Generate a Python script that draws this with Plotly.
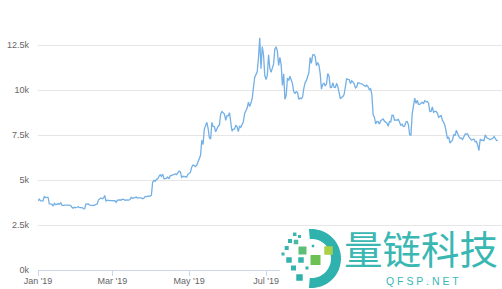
import datetime as dt
import math
import plotly.graph_objects as go

# Daily values (2019)
jan = [3843, 3943, 3837, 3858, 3845, 4076, 4026, 4030, 4035, 3678, 3687, 3661, 3552, 3706, 3631, 3655,
       3679, 3657, 3729, 3601, 3577, 3601, 3584, 3600, 3599, 3602, 3583, 3476, 3438, 3490, 3458]
feb = [3487, 3521, 3464, 3460, 3467, 3414, 3400, 3666, 3674, 3671, 3600, 3611, 3595, 3584, 3600, 3618,
       3667, 3899, 3947, 3999, 3955, 3994, 4143, 3810, 3883, 3855, 3860, 3854]
mar = [3860, 3875, 3848, 3762, 3875, 3877, 3900, 3878, 3938, 3924, 3874, 3896, 3882, 3880, 3919, 4032,
       3986, 3993, 4018, 4051, 3996, 4004, 4025, 4008, 3963, 3985, 4087, 4069, 4098, 4106, 4105]
apr = [4158, 4880, 4973, 4922, 5036, 5059, 5198, 5289, 5205, 5325, 5064, 5090, 5095, 5167, 5067, 5235,
       5251, 5298, 5304, 5338, 5301, 5389, 5488, 5447, 5150, 5209, 5208, 5190, 5155, 5324]
may = [5360, 5432, 5707, 5832, 5796, 5747, 5830, 5982, 6162, 6358, 7209, 6971, 7815, 7994, 8206, 7885,
       7344, 7271, 8197, 7978, 7963, 7680, 7882, 7991, 8052, 8674, 8805, 8719, 8660, 8319, 8575]
jun = [8564, 8742, 8209, 7707, 7825, 7822, 8043, 7954, 7688, 8000, 7927, 8145, 8230, 8693, 8838, 8995,
       9320, 9082, 9273, 9527, 10144, 10701, 10855, 11011, 11790, 12900, 11182, 12407, 11959, 10817]
jul = [10583, 10801, 11961, 11215, 10978, 11208, 11450, 12285, 12400, 12156, 11358, 11815, 11392, 10256,
       10895, 9477, 9693, 10666, 10530, 10767, 10599, 10343, 9900, 9811, 9911, 9871, 9477, 9552, 9519,
       9607, 10085]
aug = [10399, 10518, 10821, 10970, 11805, 11478, 11941, 11966, 11862, 11354, 11523, 11382, 10895, 10051,
       10311, 10374, 10231, 10345, 10916, 10763, 10138, 10131, 10407, 10160, 10139, 10370, 10185, 9754,
       9510, 9598, 9630]
sep = [9757, 10346, 10623, 10594, 10575, 10353, 10517, 10441, 10334, 10115, 10178, 10410, 10360, 10358,
       10347, 10276, 10241, 10199, 10266, 10181, 10019, 10070, 9729, 8620, 8486, 8118, 8251, 8245, 8104,
       8293]
oct_ = [8343, 8393, 8259, 8205, 8151, 7988, 8245, 8228, 8595, 8586, 8321, 8336, 8321, 8374, 8205, 8047,
        8103, 7973, 7988, 8222, 8243, 8078, 7514, 7493, 8660, 9244, 9551, 9256, 9427, 9205, 9199]
nov = [9261, 9324, 9235, 9412, 9342, 9360, 9267, 8804, 8813, 9055, 8757, 8815, 8808, 8708, 8491, 8550,
       8577, 8309, 8206, 8027, 7642, 7296, 7397, 7047, 7146, 7218, 7531, 7463, 7761, 7569]
dec = [7424, 7321, 7320, 7252, 7448, 7546, 7556, 7564, 7400, 7278, 7217, 7243, 7269, 7124, 7152, 6932,
       6640, 7276, 7202, 7219, 7191, 7511, 7355, 7322, 7275, 7238, 7290, 7317, 7422, 7293, 7193]
jan_2020 = [7200]

values = jan + feb + mar + apr + may + jun + jul + aug + sep + oct_ + nov + dec + jan_2020
start = dt.date(2019, 1, 1)
dates = [start + dt.timedelta(days=i) for i in range(len(values))]

tick_vals = [0, 2500, 5000, 7500, 10000, 12500, 15000]
tick_text = ["0k", "2.5k", "5k", "7.5k", "10k", "12.5k", ""]
x_ticks = ["2019-01-01", "2019-03-01", "2019-05-01", "2019-07-01", "2019-09-01", "2019-11-01"]
x_text = ["Jan '19", "Mar '19", "May '19", "Jul '19", "Sep '19", "Nov '19"]

W, H = 502, 289
L, R, T, B = 38, 0, 0, 19
PW, PH = W - L - R, H - T - B


def px(x):
    return (x - L) / PW


def py(y):
    return (T + PH - y) / PH


fig = go.Figure()
fig.add_trace(go.Scatter(x=dates, y=values, mode="lines",
                         line=dict(color="#74b0e6", width=1.3), hoverinfo="skip"))

shapes = []
# white watermark background
shapes.append(dict(type="rect", xref="paper", yref="paper", x0=px(280), x1=px(503),
                   y0=py(228), y1=py(290), fillcolor="white", line=dict(width=0), layer="above"))

# logo ring
cx, cy, Ro, Ri = 311.5, 258.5, 29.5, 19.5
a0, a1 = 95, -95
n = 40
pts = []
for i in range(n + 1):
    a = math.radians(a0 + (a1 - a0) * i / n)
    pts.append((cx + Ro * math.cos(a), cy - Ro * math.sin(a)))
for i in range(n + 1):
    a = math.radians(a1 + (a0 - a1) * i / n)
    pts.append((cx + Ri * math.cos(a), cy - Ri * math.sin(a)))
path = "M " + " L ".join(f"{px(x):.5f},{py(y):.5f}" for x, y in pts) + " Z"
shapes.append(dict(type="path", xref="paper", yref="paper", path=path,
                   fillcolor="#2fb2ae", line=dict(width=0), layer="above"))

squares = [
    (294.7, 234.3, 3.5, "#3ab5b0"), (299.5, 236.5, 3.0, "#3ab5b0"), (290.0, 241.0, 4.0, "#35b3ae"),
    (296.0, 242.0, 4.5, "#4ab9a0"), (302.5, 250.5, 8.0, "#5dbf75"), (286.7, 248.0, 4.0, "#35b3ae"),
    (283.0, 254.0, 3.0, "#35b3ae"), (328.5, 250.5, 8.5, "#a9d048"), (289.0, 260.0, 5.5, "#35b3ae"),
    (301.0, 260.0, 5.5, "#35b3ae"), (315.5, 260.0, 10.0, "#6cc152"), (293.5, 268.0, 5.0, "#35b3ae"),
    (307.0, 268.0, 3.0, "#35b3ae"), (299.5, 277.5, 6.5, "#2fb0ab"), (313.0, 246.0, 2.5, "#35b3ae"),
]
for x, y, s, c in squares:
    shapes.append(dict(type="rect", xref="paper", yref="paper", x0=px(x - s / 2), x1=px(x + s / 2),
                       y0=py(y + s / 2), y1=py(y - s / 2), fillcolor=c, line=dict(width=0),
                       layer="above"))

annotations = [
    dict(text="量链科技", xref="paper", yref="paper", x=px(421), y=py(247), xanchor="center",
         yanchor="middle", showarrow=False,
         font=dict(family="Noto Sans CJK SC", size=38.5, color="#3ab7b3")),
    dict(text="Q F S P . N E T", xref="paper", yref="paper", x=px(422), y=py(280.5),
         xanchor="center", yanchor="middle", showarrow=False,
         font=dict(family="Liberation Sans, Arial", size=10.5, color="#3ab7b3")),
]

fig.update_layout(
    width=W, height=H, margin=dict(l=L, r=R, t=T, b=B),
    paper_bgcolor="white", plot_bgcolor="white", showlegend=False,
    font=dict(family="Liberation Sans, Arial", size=9, color="#666666"),
    xaxis=dict(type="date", range=["2019-01-01", "2020-01-04 07:00"], tickvals=x_ticks,
               ticktext=x_text, showgrid=False, showline=True, linecolor="#ccd6eb", linewidth=1,
               ticks="outside", ticklen=5, tickcolor="#ccd6eb", zeroline=False,
               ticklabelstandoff=-3, tickfont=dict(size=9, color="#666666")),
    yaxis=dict(range=[0, 15000], tickvals=tick_vals, ticktext=tick_text, showgrid=True,
               gridcolor="#e6e6e6", gridwidth=1, zeroline=False, showline=False,
               ticks="", ticklabelstandoff=8, tickfont=dict(size=9, color="#666666")),
    shapes=shapes, annotations=annotations,
)

fig.write_html("out.html")
